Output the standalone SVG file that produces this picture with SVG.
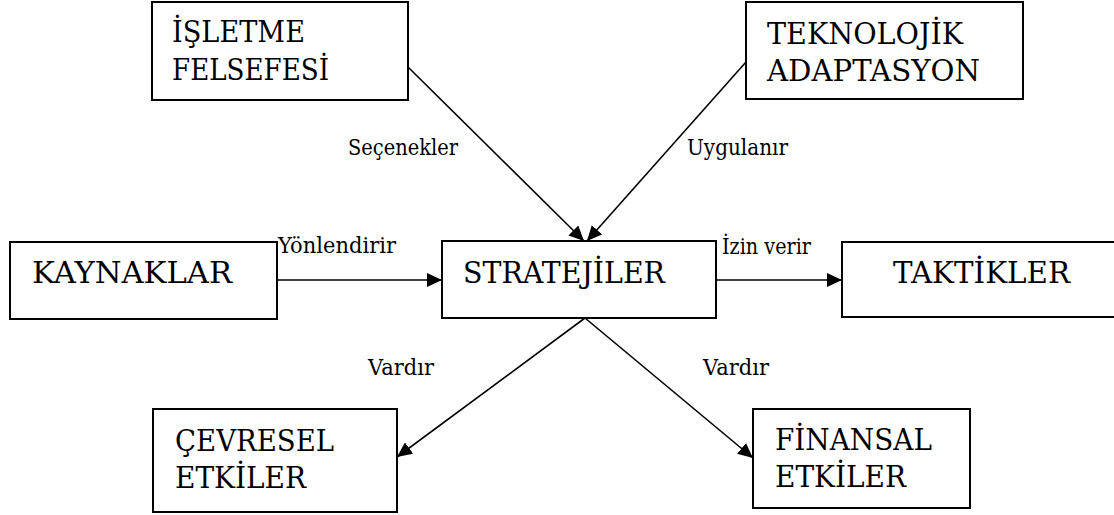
<svg xmlns="http://www.w3.org/2000/svg" width="1114" height="515" viewBox="0 0 1114 515">
<style>
.box{fill:#fff;stroke:#000;stroke-width:2}
.t{font-family:"DejaVu Serif",serif;font-size:29px;fill:#000}
.l{font-family:"DejaVu Serif",serif;font-size:22px;fill:#000}
.c{fill:none;stroke:#000;stroke-width:1.6}
</style>
<defs>
<marker id="ah" viewBox="0 0 15 14" refX="15" refY="7" markerWidth="15" markerHeight="14" markerUnits="userSpaceOnUse" orient="auto">
<path d="M0,0 L15,7 L0,14 z" fill="#000"/>
</marker>
</defs>
<rect width="1114" height="515" fill="#fff"/>
<g id="connectors">
<line class="c" x1="408" y1="67" x2="584" y2="241" marker-end="url(#ah)"/>
<line class="c" x1="746" y1="62" x2="587" y2="241" marker-end="url(#ah)"/>
<line class="c" x1="277" y1="280" x2="442" y2="280" marker-end="url(#ah)"/>
<line class="c" x1="716" y1="280" x2="842" y2="280" marker-end="url(#ah)"/>
<line class="c" x1="585" y1="318" x2="397" y2="457" marker-end="url(#ah)"/>
<line class="c" x1="585" y1="318" x2="753" y2="458" marker-end="url(#ah)"/>
<text class="l" x="348" y="155" textLength="110" lengthAdjust="spacingAndGlyphs">Seçenekler</text>
<text class="l" x="687" y="155" textLength="101" lengthAdjust="spacingAndGlyphs">Uygulanır</text>
<text class="l" x="278" y="253" textLength="118" lengthAdjust="spacingAndGlyphs">Yönlendirir</text>
<text class="l" x="722" y="254" textLength="89" lengthAdjust="spacingAndGlyphs">İzin verir</text>
<text class="l" x="368" y="375" textLength="66" lengthAdjust="spacingAndGlyphs">Vardır</text>
<text class="l" x="703" y="375" textLength="66" lengthAdjust="spacingAndGlyphs">Vardır</text>
</g>
<g id="isletme">
<rect class="box" x="152" y="2" width="256" height="98"/>
<text class="t" x="172" y="42" textLength="133" lengthAdjust="spacingAndGlyphs">İŞLETME</text>
<text class="t" x="172" y="80" textLength="157" lengthAdjust="spacingAndGlyphs">FELSEFESİ</text>
</g>
<g id="teknolojik">
<rect class="box" x="746" y="2" width="277" height="97"/>
<text class="t" x="767" y="44" textLength="196" lengthAdjust="spacingAndGlyphs">TEKNOLOJİK</text>
<text class="t" x="767" y="81" textLength="213" lengthAdjust="spacingAndGlyphs">ADAPTASYON</text>
</g>
<g id="kaynaklar">
<rect class="box" x="10" y="242" width="267" height="77"/>
<text class="t" x="32" y="283" textLength="200" lengthAdjust="spacingAndGlyphs">KAYNAKLAR</text>
</g>
<g id="stratejiler">
<rect class="box" x="442" y="241" width="274" height="77"/>
<text class="t" x="463" y="283" textLength="202" lengthAdjust="spacingAndGlyphs">STRATEJİLER</text>
</g>
<g id="taktikler">
<rect class="box" x="842" y="242" width="276" height="75"/>
<text class="t" x="893" y="283" textLength="177" lengthAdjust="spacingAndGlyphs">TAKTİKLER</text>
</g>
<g id="cevresel">
<rect class="box" x="153" y="409" width="244" height="103"/>
<text class="t" x="175" y="451" textLength="159" lengthAdjust="spacingAndGlyphs">ÇEVRESEL</text>
<text class="t" x="175" y="488" textLength="131" lengthAdjust="spacingAndGlyphs">ETKİLER</text>
</g>
<g id="finansal">
<rect class="box" x="753" y="409" width="217" height="99"/>
<text class="t" x="775" y="450" textLength="157" lengthAdjust="spacingAndGlyphs">FİNANSAL</text>
<text class="t" x="775" y="487" textLength="131" lengthAdjust="spacingAndGlyphs">ETKİLER</text>
</g>
</svg>
